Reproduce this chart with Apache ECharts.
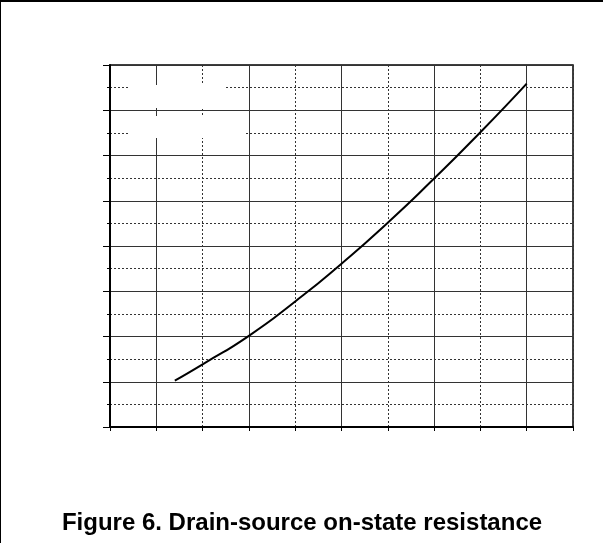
<!DOCTYPE html>
<html>
<head>
<meta charset="utf-8">
<script src="https://cdn.jsdelivr.net/npm/echarts@6.0.0/dist/echarts.min.js"></script>
<style>
  html, body { margin: 0; padding: 0; background: #fff; }
  #chart {
    width: 603px; height: 543px; box-sizing: border-box;
    border-top: 2px solid #000; border-left: 1px solid #000;
  }
</style>
</head>
<body>
<div id="chart"></div>
<script>
// junction temperature (°C) and the on-state resistance
var tempC = [-40, -25, 0, 25, 50, 75, 100, 125, 150];
var rdsOn = [0.205, 0.277, 0.403, 0.555, 0.722, 0.903, 1.098, 1.303, 1.518];

// axis ranges (no labels are printed on the original)
var xRange = [-75, 175];
var yRange = [0, 1.6];

var titleText = 'Figure 6. Drain-source on-state resistance';

var chart = echarts.init(document.getElementById('chart'));
var gridColor = '#333';

chart.setOption({
  animation: false,
  title: {
    text: titleText,
    left: 'center',
    top: 509,
    padding: 0,
    textStyle: {
      fontFamily: 'Liberation Sans, Arial, sans-serif',
      fontSize: 24,
      fontWeight: 'bold',
      color: '#000'
    }
  },
  grid: {
    left: 109,
    top: 63,
    width: 463,
    height: 362,
    show: true,
    borderColor: '#000',
    borderWidth: 1.5
  },
  xAxis: {
    type: 'value',
    min: xRange[0],
    max: xRange[1],
    interval: 50,            // starts from min: the dotted lines fall on -75, -25, 25...
    axisLabel: { show: false },
    axisLine: { onZero: false, lineStyle: { color: '#000', width: 2 } },
    axisTick: { length: 4, lineStyle: { color: '#000' } },
    minorTick: { show: true, splitNumber: 2, length: 4, lineStyle: { color: '#000' } },
    splitLine: { lineStyle: { color: gridColor, type: [2, 2], width: 1 } },
    minorSplitLine: { show: true, lineStyle: { color: gridColor, width: 1 } }
  },
  yAxis: {
    type: 'value',
    min: yRange[0],
    max: yRange[1],
    interval: 0.2,
    axisLabel: { show: false },
    axisLine: { show: true, onZero: false, lineStyle: { color: '#000', width: 2 } },
    axisTick: { show: true, length: 7, lineStyle: { color: '#000' } },
    minorTick: { show: true, splitNumber: 2, length: 3, lineStyle: { color: '#000' } },
    splitLine: { lineStyle: { color: gridColor, width: 1 } },
    minorSplitLine: { show: true, lineStyle: { color: gridColor, type: [2, 2], width: 1 } }
  },
  // the legend of the original has been blanked out, leaving white patches
  graphic: [
    { type: 'rect', shape: { x: 127, y: 83, width: 98, height: 23 }, style: { fill: '#fff' }, z: 5 },
    { type: 'rect', shape: { x: 127, y: 114, width: 118, height: 22 }, style: { fill: '#fff' }, z: 5 }
  ],
  series: [{
    type: 'line',
    data: tempC.map(function (t, i) { return [t, rdsOn[i]]; }),
    smooth: 0.6,
    symbol: 'none',
    lineStyle: { color: '#000', width: 2 },
    z: 10
  }]
});
</script>
</body>
</html>
